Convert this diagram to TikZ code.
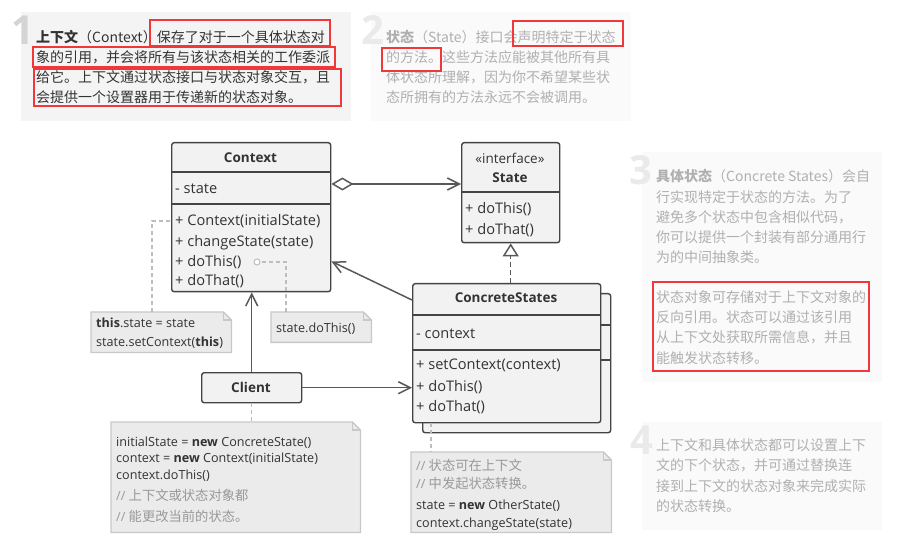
\documentclass[tikz,border=0pt]{standalone}
\usepackage{fontspec}
\setmainfont{Open Sans}
\newfontfamily\cjk{Noto Sans CJK SC}
\usetikzlibrary{arrows.meta}
\definecolor{boxfill}{HTML}{F2F2F2}
\definecolor{boxline}{HTML}{444444}
\definecolor{arrowc}{HTML}{595959}
\definecolor{notefill}{HTML}{EBEBEB}
\definecolor{noteline}{HTML}{C8C8C8}
\definecolor{txt}{HTML}{333333}
\definecolor{comment}{HTML}{999999}
\definecolor{bgone}{HTML}{F4F4F4}
\definecolor{bgtwo}{HTML}{FAFAFA}
\definecolor{fade}{HTML}{B0B0B0}
\definecolor{numone}{HTML}{D4D4D4}
\definecolor{numtwo}{HTML}{EAEAEA}
\definecolor{hl}{HTML}{F0373A}
\definecolor{dashgray}{HTML}{BDBDBD}
\newcommand\foldnote[1]{%
  \filldraw[fill=notefill, draw=noteline, line width=1.3pt] (#1.north west) -- ([xshift=-8pt]#1.north east) -- ([yshift=-8pt]#1.north east) -- (#1.south east) -- (#1.south west) -- cycle;
  \draw[draw=noteline, line width=1.3pt] ([xshift=-8pt]#1.north east) |- ([yshift=-8pt]#1.north east);}
\newcommand\cmt[1]{{\cjk\fontsize{13.3}{16}\selectfont #1}}
\begin{document}
\begin{tikzpicture}[x=1pt, y=-1pt,
  box/.style={draw=boxline, fill=boxfill, line width=1.4pt, rounded corners=2.5pt, inner sep=0, anchor=north west},
  ln/.style={anchor=base west, inner sep=0, text=txt, font=\fontsize{14.6}{17}\selectfont},
  codeln/.style={anchor=base west, inner sep=0, text=txt, font=\fontsize{12.6}{15}\selectfont},
  ttl/.style={anchor=base, inner sep=0, text=txt, font=\fontsize{13.5}{16}\selectfont\bfseries},
  cjkdark/.style={anchor=base west, inner sep=0, text=txt, font=\cjk\fontsize{14}{18}\selectfont},
  cjkfade/.style={anchor=base west, inner sep=0, text=fade, font=\cjk\fontsize{14}{18}\selectfont},
  bignum/.style={inner sep=0, font=\fontsize{40}{40}\selectfont\bfseries},
  conn/.style={draw=arrowc, line width=1.5pt},
  openhead/.style={-{Straight Barb[length=12pt,width=12pt]}},
  dashc/.style={draw=dashgray, line width=1.3pt, dash pattern=on 4pt off 3pt},
  notefr/.style={inner sep=0, anchor=north west},
  hlbox/.style={draw=hl, line width=2.5pt},
  divider/.style={draw=boxline, line width=1.4pt}
]
\useasboundingbox (0,0) rectangle (897,545);
\fill[white] (0,0) rectangle (897,545);

% ---------- explanatory notes ----------
\fill[bgone] (21,12) rectangle (351,121);
\fill[bgtwo] (371,12) rectangle (631,121);
\fill[bgtwo] (642,152) rectangle (882,382);
\fill[bgtwo] (642,422) rectangle (882,530);

\node[bignum, text=numone] (num1) at (23,30) {1};
\node[bignum, text=numtwo] (num2) at (373,30) {2};
\node[bignum, text=numtwo] (num3) at (641,170) {3};
\node[bignum, text=numtwo] (num4) at (642,440) {4};

\node[cjkdark] (a1) at (36,43) {\textbf{上下文}（Context）保存了对于一个具体状态对};
\node[cjkdark] (a2) at (36,62.7) {象的引用，并会将所有与该状态相关的工作委派};
\node[cjkdark] (a3) at (36,82.4) {给它。上下文通过状态接口与状态对象交互，且};
\node[cjkdark] (a4) at (36,102.1) {会提供一个设置器用于传递新的状态对象。};

\node[cjkfade] (b1) at (386,42.5) {\textbf{状态}（State）接口会声明特定于状态};
\node[cjkfade] (b2) at (386,62.5) {的方法。这些方法应能被其他所有具};
\node[cjkfade] (b3) at (386,82.5) {体状态所理解，因为你不希望某些状};
\node[cjkfade] (b4) at (386,102.5) {态所拥有的方法永远不会被调用。};

\node[cjkfade] (c1) at (656,182) {\textbf{具体状态}（Concrete States）会自};
\node[cjkfade] (c2) at (656,202.2) {行实现特定于状态的方法。为了};
\node[cjkfade] (c3) at (656,222.4) {避免多个状态中包含相似代码，};
\node[cjkfade] (c4) at (656,242.6) {你可以提供一个封装有部分通用行};
\node[cjkfade] (c5) at (656,262.8) {为的中间抽象类。};
\node[cjkfade] (c6) at (656,303) {状态对象可存储对于上下文对象的};
\node[cjkfade] (c7) at (656,323) {反向引用。状态可以通过该引用};
\node[cjkfade] (c8) at (656,343) {从上下文处获取所需信息，并且};
\node[cjkfade] (c9) at (656,363) {能触发状态转移。};

\node[cjkfade] (d1) at (656,450) {上下文和具体状态都可以设置上下};
\node[cjkfade] (d2) at (656,470.5) {文的下个状态，并可通过替换连};
\node[cjkfade] (d3) at (656,491) {接到上下文的状态对象来完成实际};
\node[cjkfade] (d4) at (656,511.5) {的状态转换。};

% red highlights
\draw[hlbox] (150,20) rectangle (330,46);
\draw[hlbox] (33,47) rectangle (335,67);
\draw[hlbox] (34,69) rectangle (341,106);
\draw[hlbox] (513,21) rectangle (623,46);
\draw[hlbox] (382,48) rectangle (441,71);
\draw[hlbox] (653,282) rectangle (869,371);

% ---------- class boxes ----------
\node[box, minimum width=159pt, minimum height=149pt] (context) at (171,142) {};
\draw[divider] (171,172) -- (330,172);
\draw[divider] (171,204) -- (330,204);
\node[ttl] (contextT) at (250.5,163) {Context};
\node[ln] (context1) at (175,194) {- state};
\node[ln] (context2) at (175,226) {+ Context(initialState)};
\node[ln] (context3) at (175,246.5) {+ changeState(state)};
\node[ln] (context4) at (175,266.5) {+ doThis()};
\node[ln] (context5) at (175,286) {+ doThat()};

\node[box, minimum width=98pt, minimum height=100pt] (state) at (461,142) {};
\draw[divider] (461,192) -- (559,192);
\node[ttl, font=\fontsize{13.5}{16}\selectfont] (stateS) at (510,164) {«interface»};
\node[ttl] (stateT) at (510,183) {State};
\node[ln] (state1) at (465,214) {+ doThis()};
\node[ln] (state2) at (465,235) {+ doThat()};

\node[box, minimum width=188pt, minimum height=139pt] (csback) at (422,293) {};
\draw[divider] (422,325) -- (610,325);
\draw[divider] (422,360) -- (610,360);
\node[box, minimum width=188pt, minimum height=139pt] (cs) at (412,283) {};
\draw[divider] (412,315) -- (600,315);
\draw[divider] (412,350) -- (600,350);
\node[ttl] (csT) at (506,303) {ConcreteStates};
\node[ln] (cs1) at (416,338) {- context};
\node[ln] (cs2) at (416,370) {+ setContext(context)};
\node[ln] (cs3) at (416,391) {+ doThis()};
\node[ln] (cs4) at (416,411) {+ doThat()};

\node[box, minimum width=100pt, minimum height=30pt] (client) at (201,372) {};
\node[ttl] (clientT) at (251,392) {Client};

% ---------- code notes ----------
\node[notefr, minimum width=140pt, minimum height=40pt] (nctx) at (91,312) {};
\foldnote{nctx}
\node[codeln] (nctx1) at (96,328) {\textbf{this}.state = state};
\node[codeln] (nctx2) at (96,347) {state.setContext(\textbf{this})};

\node[notefr, minimum width=100pt, minimum height=30pt] (ndo) at (271,312) {};
\foldnote{ndo}
\node[codeln] (ndo1) at (276,333) {state.doThis()};

\node[notefr, minimum width=249pt, minimum height=110pt] (ncli) at (111,422) {};
\foldnote{ncli}
\node[codeln] (ncli1) at (116,446) {initialState = \textbf{new} ConcreteState()};
\node[codeln] (ncli2) at (116,462.5) {context = \textbf{new} Context(initialState)};
\node[codeln] (ncli3) at (116,479.5) {context.doThis()};
\node[codeln, text=comment] (ncli4) at (116,500.5) {// \cmt{上下文或状态对象都}};
\node[codeln, text=comment] (ncli5) at (116,521.5) {// \cmt{能更改当前的状态。}};

\node[notefr, minimum width=200pt, minimum height=80pt] (ncs) at (411,452) {};
\foldnote{ncs}
\node[codeln, text=comment] (ncs1) at (416,470) {// \cmt{状态可在上下文}};
\node[codeln, text=comment] (ncs2) at (416,488) {// \cmt{中发起状态转换。}};
\node[codeln] (ncs3) at (416,509) {state = \textbf{new} OtherState()};
\node[codeln] (ncs4) at (416,527) {context.changeState(state)};

% ---------- connectors ----------
\draw[conn, {Diamond[fill=white,length=22pt,width=13pt]}-{Straight Barb[length=12pt,width=12pt]}]
  (context.east |- 0,184) -- (state.west |- 0,184);
\draw[conn, dash pattern=on 5pt off 3pt, -{Triangle[fill=white,length=13pt,width=16pt]}]
  (state.south |- cs.north) -- (state.south);
\draw[conn, openhead] ([yshift=-17pt]cs.north west) -- ([yshift=31pt]context.south east);
\draw[conn, openhead] (client.north) -- (client.north |- context.south);
\draw[conn, openhead] (client.east) -- (client.east -| cs.west);

\coordinate (nctxtop) at ([xshift=61pt]nctx.north west);
\draw[dashc] (nctxtop) |- (context.west |- 0,221);
\node[circle, draw=dashgray, fill=white, line width=1pt, minimum size=6pt, inner sep=0] (dot) at (257,262) {};
\coordinate (ndotop) at ([xshift=15pt]ndo.north west);
\draw[dashc] (ndotop) |- (dot.east);
\draw[dashc] (client.south) -- (client.south |- ncli.north);
\coordinate (csd) at ([xshift=19pt]cs.south west);
\draw[dashc] (csd) -- (csd |- ncs.north);
\end{tikzpicture}
\end{document}
